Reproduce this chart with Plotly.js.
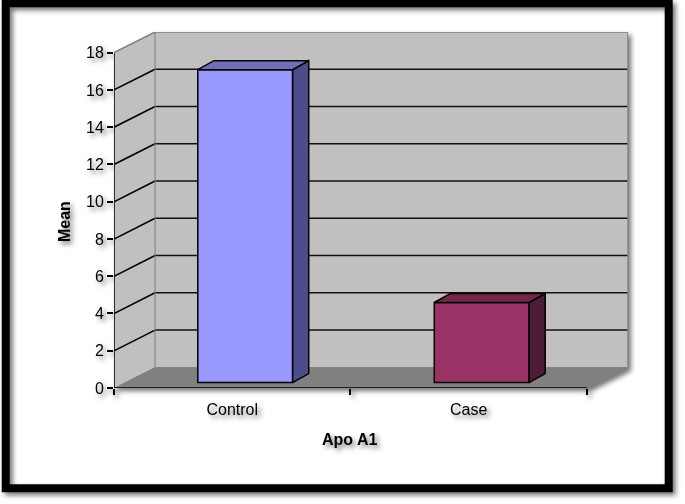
<!DOCTYPE html>
<html>
<head>
<meta charset="utf-8">
<script src="https://cdn.plot.ly/plotly-3.0.1.min.js"></script>
<style>
html,body{margin:0;padding:0;background:#fff;}
#chart{width:685px;height:504px;}
#chart .main-svg{filter:drop-shadow(3px 3px 2.5px rgba(0,0,0,.55));background:transparent !important;}
</style>
</head>
<body>
<div id="chart"></div>
<script>
var categories = ['Control', 'Case'];
var means = [16.8, 4.3];
var yTicks = [0, 2, 4, 6, 8, 10, 12, 14, 16, 18];
var xTitle = 'Apo A1';
var yTitle = 'Mean';
var frontColors = ['#9999FF', '#993366'];
var sideColors = ['#4D4D8C', '#4F1C38'];
var topColors = ['#6F6FB8', '#74264D'];

// pseudo-3D geometry, in axis units
var wallDX = 0.1736, wallDY = 1.111;
var barDX = 0.068, barDY = 0.483, barLift = 0.29;
var barOffset = -0.1456, barWidth = 0.401;
var xL = -0.5, xR = 1.5, yTop = 18;
var xMax = xR + wallDX, yMax = yTop + wallDY;

var W = 685, H = 504;
var m = {l: 114.3, r: 56.7, t: 31.7, b: 116.3};
var pw = W - m.l - m.r, ph = H - m.t - m.b;
function px(x){ return (x - m.l) / pw; }
function py(y){ return 1 - (y - m.t) / ph; }

function poly(xs, ys, fill){
  var d = xs.map(function(x, i){ return (i ? 'L' : 'M') + x + ',' + ys[i]; }).join('') + 'Z';
  return {type: 'path', xref: 'x', yref: 'y', path: d, fillcolor: fill, line: {width: 0}, layer: 'below'};
}
function seg(x0, y0, x1, y1, color, width){
  return {type: 'line', xref: 'x', yref: 'y', x0: x0, y0: y0, x1: x1, y1: y1,
          line: {color: color, width: width}, layer: 'below'};
}

var shapes = [];
// outer black frame
shapes.push({type: 'rect', xref: 'paper', yref: 'paper', x0: px(6), x1: px(669), y0: py(488), y1: py(3),
             line: {color: '#000', width: 8}, fillcolor: 'rgba(0,0,0,0)', layer: 'below'});
// walls and floor
shapes.push(poly([xL + wallDX, xMax, xMax, xL + wallDX], [wallDY, wallDY, yMax, yMax], '#C0C0C0'));
shapes.push(poly([xL, xL + wallDX, xL + wallDX, xL], [0, wallDY, yMax, yTop], '#C0C0C0'));
shapes.push(poly([xL, xR, xMax, xL + wallDX], [0, 0, wallDY, wallDY], '#808080'));
// grid lines
yTicks.forEach(function(v){
  if (v === 0 || v === yTop) return;
  shapes.push(seg(xL, v, xL + wallDX, v + wallDY, '#000', 1.5));
  shapes.push(seg(xL + wallDX, v + wallDY, xMax, v + wallDY, '#111', 1.5));
});
shapes.push(seg(xL + wallDX, wallDY, xL + wallDX, yMax, '#808080', 1));

var traces = [];
traces.push({type: 'bar', x: categories, y: means, base: barLift, width: barWidth, offset: barOffset,
  marker: {color: frontColors, line: {color: '#000', width: 1.5}}, hoverinfo: 'x+y', showlegend: false});

var face = {type: 'scatter', mode: 'lines', fill: 'toself', line: {color: '#000', width: 1.5},
            hoverinfo: 'skip', showlegend: false, xaxis: 'x2', yaxis: 'y'};
means.forEach(function(v, i){
  var l = i + barOffset, r = l + barWidth, b = barLift, t = barLift + v;
  traces.push(Object.assign({}, face, {x: [r, r + barDX, r + barDX, r, r], y: [b, b + barDY, t + barDY, t, b], fillcolor: sideColors[i]}));
  traces.push(Object.assign({}, face, {x: [l, l + barDX, r + barDX, r, l], y: [t, t + barDY, t + barDY, t, t], fillcolor: topColors[i]}));
});

// edges that must not be clipped
var edge = {type: 'scatter', mode: 'lines', hoverinfo: 'skip', showlegend: false, cliponaxis: false, xaxis: 'x2', yaxis: 'y'};
traces.push(Object.assign({}, edge, {x: [xL, xL], y: [0, yTop], line: {color: '#000', width: 1.5}}));
traces.push(Object.assign({}, edge, {x: [xL, xR], y: [0, 0], line: {color: '#000', width: 1.5}}));
traces.push(Object.assign({}, edge, {x: [xL, xL + wallDX, xMax, xMax, xR], y: [yTop, yMax, yMax, wallDY, 0], line: {color: '#808080', width: 1.5}}));

var family = '"Liberation Sans", Arial, sans-serif';
var font = {family: family, size: 16, color: '#000'};
var titleFont = {family: family, size: 16, color: '#000', weight: 700};

var layout = {
  width: W, height: H, margin: {l: m.l, r: m.r, t: m.t, b: m.b, pad: 0},
  paper_bgcolor: 'rgba(0,0,0,0)', plot_bgcolor: 'rgba(0,0,0,0)',
  showlegend: false, shapes: shapes, font: font,
  xaxis: {type: 'category', categoryorder: 'array', categoryarray: categories, range: [xL, xMax], tickson: 'boundaries',
    ticks: 'outside', ticklen: 6, tickwidth: 1.5, tickcolor: '#000', showgrid: false, zeroline: false, showline: false,
    tickfont: font, ticklabelstandoff: 10},
  xaxis2: {type: 'linear', overlaying: 'x', range: [xL, xMax], visible: false, anchor: 'y'},
  yaxis: {range: [0, yMax], tickmode: 'array', tickvals: yTicks, ticktext: yTicks.map(String),
    ticks: 'outside', ticklen: 6, tickwidth: 1.5, tickcolor: '#000', showgrid: false, zeroline: false, showline: false,
    tickfont: font},
  annotations: [
    {text: xTitle, xref: 'paper', yref: 'paper', x: px(350.5), y: py(439), xanchor: 'center', yanchor: 'middle', showarrow: false, font: titleFont},
    {text: yTitle, xref: 'paper', yref: 'paper', x: px(65), y: py(221), xanchor: 'center', yanchor: 'middle', textangle: -90, showarrow: false, font: titleFont}
  ]
};
Plotly.newPlot('chart', traces, layout, {displayModeBar: false, responsive: false});
</script>
</body>
</html>
